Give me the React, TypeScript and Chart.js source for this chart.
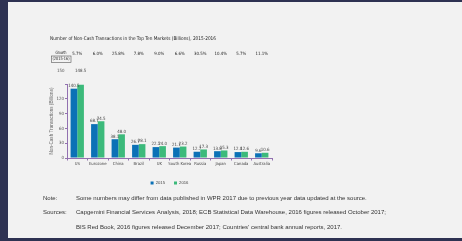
import React, { useEffect, useRef } from 'react';
import { Chart, registerables } from 'chart.js';

Chart.register(...registerables);

const TITLE = 'Number of Non-Cash Transactions in the Top Ten Markets (Billions), 2015-2016';
const CATEGORIES = ['US', 'Eurozone', 'China', 'Brazil', 'UK', 'South Korea', 'Russia', 'Japan', 'Canada', 'Australia'];
const VALUES_2015 = [140.5, 68.7, 38.1, 26.7, 22.1, 21.1, 12.7, 13.8, 12.0, 9.6];
const VALUES_2016 = [148.5, 74.5, 48.0, 28.1, 24.0, 23.2, 17.3, 15.3, 12.6, 10.6];
const GROWTH = ['5.7%', '6.0%', '25.8%', '7.8%', '9.0%', '6.6%', '30.5%', '10.4%', '5.7%', '11.1%'];
const GROWTH_LABEL = ['Growth', '(2015-16)'];
const SERIES = ['2015', '2016'];
const Y_TICKS = [0, 30, 60, 90, 120, 150];
const Y_TITLE = 'Non-Cash Transactions (Billions)';
const NOTE_LABEL = 'Note:';
const NOTE_TEXT = 'Some numbers may differ from data published in WPR 2017 due to previous year data updated at the source.';
const SOURCES_LABEL = 'Sources:';
const SOURCES_1 = 'Capgemini Financial Services Analysis, 2018; ECB Statistical Data Warehouse, 2016 figures released October 2017;';
const SOURCES_2 = "BIS Red Book, 2016 figures released December 2017; Countries' central bank annual reports, 2017.";

const NARROW = "'Liberation Sans Narrow', 'Arial Narrow', 'DejaVu Sans Condensed', 'Liberation Sans', Arial, sans-serif";
const SANS = "'Liberation Sans', Arial, sans-serif";
const BLUE = '#0b71b6';
const GREEN = '#3cba7b';
const AXIS = '#9270b0';

const overlay = {
  id: 'overlay',
  afterDraw(chart: any) {
    const ctx = chart.ctx;
    const xs = chart.scales.x;
    const area = chart.chartArea;
    ctx.save();
    ctx.textBaseline = 'middle';

    // title
    ctx.fillStyle = '#222';
    ctx.textAlign = 'left';
    ctx.font = `5px ${NARROW}`;
    ctx.fillText(TITLE, 50, 38.5, 166);

    // growth row
    ctx.font = `4.4px ${NARROW}`;
    ctx.textAlign = 'center';
    ctx.fillText(GROWTH_LABEL[0], 61, 52.8, 11);
    ctx.fillText(GROWTH_LABEL[1], 61, 59.2, 17);
    ctx.strokeStyle = '#555';
    ctx.lineWidth = 0.6;
    ctx.strokeRect(51.5, 56, 19.5, 6.5);
    GROWTH.forEach((g, i) => {
      ctx.fillText(g, xs.getPixelForValue(i), 54);
    });

    // value labels
    ctx.fillStyle = '#444';
    ctx.font = `4.4px ${NARROW}`;
    chart.data.datasets.forEach((ds: any, di: number) => {
      const meta = chart.getDatasetMeta(di);
      meta.data.forEach((bar: any, i: number) => {
        let ly = bar.y - 2.8;
        if (ly < area.top) ly = area.top - 13;
        ctx.fillText(ds.data[i].toFixed(1), bar.x, ly);
      });
    });

    // top tick label
    ctx.fillStyle = '#555';
    ctx.textAlign = 'right';
    ctx.font = `4.4px ${NARROW}`;
    ctx.fillText(String(Y_TICKS[Y_TICKS.length - 1]), 64.5, area.top - 13);

    // notes
    ctx.fillStyle = '#333';
    ctx.textAlign = 'left';
    ctx.font = `6px ${SANS}`;
    ctx.fillText(NOTE_LABEL, 43, 198.5);
    ctx.fillText(NOTE_TEXT, 76, 198.5, 313);
    ctx.fillText(SOURCES_LABEL, 43, 212.5);
    ctx.fillText(SOURCES_1, 76, 212.5, 318);
    ctx.fillText(SOURCES_2, 76, 227, 286);
    ctx.restore();
  },
};

export default function App() {
  const ref = useRef<HTMLCanvasElement>(null);

  useEffect(() => {
    document.body.style.margin = '0';
    const chart = new Chart(ref.current as HTMLCanvasElement, {
      type: 'bar',
      data: {
        labels: CATEGORIES,
        datasets: [
          { label: SERIES[0], data: VALUES_2015, backgroundColor: BLUE, categoryPercentage: 0.65, barPercentage: 1.0 },
          { label: SERIES[1], data: VALUES_2016, backgroundColor: GREEN, categoryPercentage: 0.65, barPercentage: 1.0 },
        ],
      },
      options: {
        animation: false,
        responsive: false,
        devicePixelRatio: 1,
        layout: { padding: { top: 84, left: 40, right: 190, bottom: 45.8 } },
        plugins: {
          legend: {
            position: 'bottom',
            fullSize: false,
            labels: {
              boxWidth: 3,
              boxHeight: 3,
              padding: 9,
              color: '#444',
              font: { size: 4.2, family: SANS },
            },
          },
          tooltip: { enabled: false },
        },
        scales: {
          x: {
            grid: { offset: true, drawOnChartArea: false, tickLength: 2.5, color: AXIS },
            border: { color: AXIS, width: 1 },
            ticks: { autoSkip: false, maxRotation: 0, minRotation: 0, color: '#444', padding: 1, font: { size: 4.2, family: NARROW } },
            afterFit: (s: any) => { s.height = 14; },
          },
          y: {
            min: 0,
            max: 150,
            afterBuildTicks: (s: any) => { s.ticks = Y_TICKS.map((v) => ({ value: v })); },
            grid: { drawOnChartArea: false, tickLength: 2, color: AXIS },
            border: { color: AXIS, width: 1 },
            ticks: {
              color: '#555',
              padding: 1,
              font: { size: 4.4, family: NARROW },
              callback: (v: any) => (v === Y_TICKS[Y_TICKS.length - 1] ? '' : String(v)),
            },
            title: {
              display: true,
              text: Y_TITLE,
              color: '#666',
              font: { size: 4.6, family: SANS },
              padding: { top: 9.3, bottom: 0 },
            },
            afterFit: (s: any) => { s.width = 27; },
          },
        },
      },
      plugins: [overlay],
    } as any);
    return () => chart.destroy();
  }, []);

  return (
    <div style={{ position: 'relative', width: 462, height: 241, background: '#2e3252', overflow: 'hidden' }}>
      <div style={{ position: 'absolute', left: 8, top: 2, width: 454, height: 236, background: '#f2f2f2' }} />
      <canvas ref={ref} width={462} height={241} style={{ position: 'absolute', left: 0, top: 0, width: 462, height: 241 }} />
    </div>
  );
}
